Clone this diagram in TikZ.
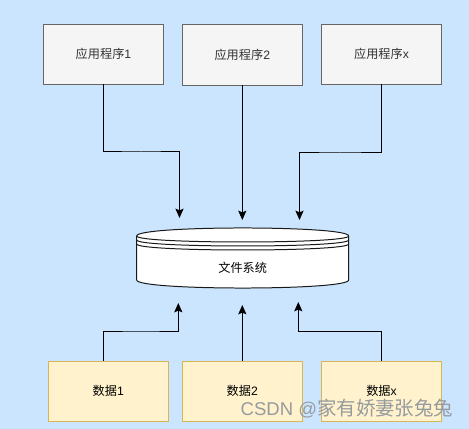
\documentclass[tikz,border=0pt]{standalone}
\usepackage{fontspec}
\setmainfont{Liberation Sans}
\newfontfamily\cjk{Noto Sans CJK SC}
\usetikzlibrary{arrows.meta}
\definecolor{bgblue}{RGB}{204, 229, 255}
\definecolor{appfill}{RGB}{245, 245, 245}
\definecolor{appline}{RGB}{102, 102, 102}
\definecolor{datafill}{RGB}{255, 242, 204}
\definecolor{dataline}{RGB}{214, 182, 86}
\definecolor{marktext}{RGB}{150, 155, 160}

\begin{document}
\begin{tikzpicture}[
  x=0.03cm, y=-0.03cm,
  tbox/.style={draw, minimum width=3.6cm, minimum height=1.8cm, line width=0.75pt, inner sep=0pt, font=\fontsize{10.4}{12}\selectfont},
  appbox/.style={tbox, fill=appfill, draw=appline, text=black!80},
  databox/.style={tbox, fill=datafill, draw=dataline},
  conn/.style={line width=0.85pt, -{Stealth[length=8pt, width=7pt, inset=1.5pt]}},
  diskline/.style={line width=0.85pt, draw=black!90}
]
  \fill[bgblue] (0, 0) rectangle (469, 429);

  \node[appbox] (app1) at (103.5, 54) {{\cjk 应用程序}1};
  \node[appbox, minimum height=1.83cm] (app2) at (242.3, 54.5) {{\cjk 应用程序}2};
  \node[appbox] (appx) at (381.5, 54) {{\cjk 应用程序}x};

  \node[databox] (data1) at (108.3, 391) {{\cjk 数据}1};
  \node[databox] (data2) at (242.3, 391) {{\cjk 数据}2};
  \node[databox] (datax) at (381.5, 391) {{\cjk 数据}x};

  % disk
  \filldraw[diskline, fill=white] (136.7, 236) .. controls (136.7, 225.3) and (348.7, 225.3) .. (348.7, 236)
    -- (348.7, 280) .. controls (348.7, 290.7) and (136.7, 290.7) .. (136.7, 280) -- cycle;
  \draw[diskline] (136.7, 236) .. controls (136.7, 244) and (348.7, 244) .. (348.7, 236);
  \draw[diskline] (136.7, 240) .. controls (136.7, 248) and (348.7, 248) .. (348.7, 240);
  \draw[diskline] (136.7, 244) .. controls (136.7, 252) and (348.7, 252) .. (348.7, 244);
  \node[font=\fontsize{10.4}{12}\selectfont] (fs) at (242.7, 268) {\cjk 文件系统};

  \coordinate (fsin1) at (179.5, 218);
  \coordinate (fsin2) at (242.3, 220);
  \coordinate (fsinx) at (299.5, 220);
  \coordinate (fsout1) at (178.3, 303);
  \coordinate (fsout2) at (242.3, 305);
  \coordinate (fsoutx) at (298.3, 302);

  \draw[conn] (app1.south) |- (141, 152) -| (fsin1);
  \draw[conn] (app2.south) -- (fsin2);
  \draw[conn] (appx.south) |- (340, 153) -| (fsinx);

  \coordinate (data1top) at (103.5, 361);
  \draw[conn] (data1top) |- (141, 331) -| (fsout1);
  \draw[conn] (data2.north) -- (fsout2);
  \draw[conn] (datax.north) |- (340, 331.5) -| (fsoutx);

  % watermark
  \node[text=marktext, font=\fontsize{15.8}{17}\selectfont, anchor=east, inner sep=0pt] (mark) at (453.5, 408.5) {CSDN @{\cjk\fontsize{16.6}{17}\selectfont 家有娇妻张兔兔}};
\end{tikzpicture}
\end{document}
